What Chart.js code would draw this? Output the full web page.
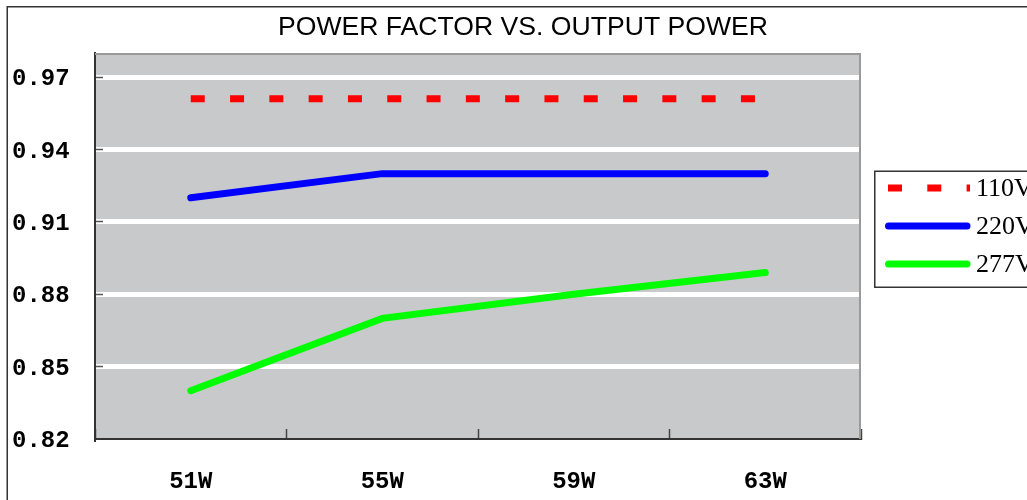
<!DOCTYPE html>
<html>
<head>
<meta charset="utf-8">
<script src="https://cdn.jsdelivr.net/npm/chart.js@4.4.0/dist/chart.umd.min.js"></script>
<style>
  html, body { margin: 0; padding: 0; background: #ffffff; }
  #wrap { width: 1027px; height: 500px; position: relative; }
</style>
</head>
<body>
<div id="wrap"><canvas id="c" width="1027" height="500"></canvas></div>
<script>
const titleText = 'POWER FACTOR VS. OUTPUT POWER';
const categories = ['51W', '55W', '59W', '63W'];
const seriesNames = ['110V', '220V', '277V'];
const values110 = [0.961, 0.961, 0.961, 0.961];
const values220 = [0.92, 0.93, 0.93, 0.93];
const values277 = [0.84, 0.87, 0.88, 0.889];
const yTickValues = [0.82, 0.85, 0.88, 0.91, 0.94, 0.97];
const yMin = 0.82;
const yMax = 0.98;

const chromePlugin = {
  id: 'chrome',
  beforeDraw(chart) {
    const ctx = chart.ctx, a = chart.chartArea;
    ctx.save();
    ctx.fillStyle = '#ffffff';
    ctx.fillRect(0, 0, chart.width, chart.height);
    ctx.fillStyle = '#c8c9cb';
    ctx.fillRect(a.left, a.top, a.right - a.left, a.bottom - a.top);
    // outer frame
    ctx.strokeStyle = '#333333';
    ctx.lineWidth = 1.5;
    ctx.strokeRect(7.25, 6.75, 2000, 2000);
    ctx.restore();
  },
  beforeDatasetsDraw(chart) {
    const ctx = chart.ctx, a = chart.chartArea;
    ctx.save();
    ctx.strokeStyle = '#9a9a9a';
    ctx.lineWidth = 2;
    ctx.beginPath();
    ctx.moveTo(a.left, a.top + 1);
    ctx.lineTo(a.right - 1, a.top + 1);
    ctx.lineTo(a.right - 1, a.bottom);
    ctx.stroke();
    ctx.restore();
  },
  afterDraw(chart) {
    const ctx = chart.ctx;
    ctx.save();
    // title
    ctx.fillStyle = '#000000';
    ctx.font = '26.6px "Liberation Sans", Arial, sans-serif';
    ctx.textAlign = 'center';
    ctx.textBaseline = 'middle';
    ctx.fillText(titleText, 523, 28);
    // legend
    const bx = 874.75, by = 171.25, bh = 116;
    ctx.fillStyle = '#ffffff';
    ctx.fillRect(bx, by, 300, bh);
    ctx.strokeStyle = '#333333';
    ctx.lineWidth = 1.5;
    ctx.strokeRect(bx, by, 300, bh);
    chart.data.datasets.forEach((ds, i) => {
      const y = 188 + i * 38;
      ctx.strokeStyle = ds.borderColor;
      ctx.lineWidth = ds.borderWidth;
      ctx.setLineDash(ds.borderDash || []);
      ctx.lineCap = ds.borderCapStyle || 'butt';
      ctx.beginPath();
      if (ds.borderDash && ds.borderDash.length) {
        ctx.moveTo(888, y); ctx.lineTo(970, y);
      } else {
        ctx.moveTo(888.5, y); ctx.lineTo(967, y);
      }
      ctx.stroke();
      ctx.setLineDash([]);
      ctx.fillStyle = '#000000';
      ctx.font = '26px "Liberation Serif", "Times New Roman", serif';
      ctx.textAlign = 'left';
      ctx.textBaseline = 'middle';
      ctx.fillText(ds.label, 976, y + 1);
    });
    ctx.restore();
  }
};

new Chart(document.getElementById('c'), {
  type: 'line',
  data: {
    labels: categories,
    datasets: [
      { label: seriesNames[0], data: values110, borderColor: '#ff0000', backgroundColor: '#ff0000',
        borderWidth: 7, borderDash: [14, 25.3], borderCapStyle: 'butt', pointRadius: 0, tension: 0, fill: false },
      { label: seriesNames[1], data: values220, borderColor: '#0000ff', backgroundColor: '#0000ff',
        borderWidth: 7, borderCapStyle: 'round', pointRadius: 0, tension: 0, fill: false },
      { label: seriesNames[2], data: values277, borderColor: '#00ff00', backgroundColor: '#00ff00',
        borderWidth: 7, borderCapStyle: 'round', pointRadius: 0, tension: 0, fill: false }
    ]
  },
  options: {
    responsive: false,
    animation: false,
    devicePixelRatio: 1,
    layout: { padding: { left: 12, top: 53, right: 166, bottom: 0 } },
    plugins: { legend: { display: false }, title: { display: false }, tooltip: { enabled: false } },
    scales: {
      x: {
        offset: true,
        grid: { offset: true, drawOnChartArea: false, drawTicks: true, tickLength: -10,
                tickColor: '#444444', tickWidth: 1.5 },
        border: { display: true, color: '#333333', width: 2 },
        ticks: { color: '#000000', padding: 39, font: { family: '"Liberation Mono", monospace', size: 24, weight: 'bold' } },
        afterFit(s) { s.height = 61; }
      },
      y: {
        min: yMin, max: yMax,
        afterBuildTicks(s) { s.ticks = yTickValues.map(v => ({ value: v })); },
        grid: {
          color: c => (c.tick && Math.abs(c.tick.value - yMin) < 1e-9) ? 'rgba(0,0,0,0)' : '#ffffff',
          lineWidth: 5,
          drawTicks: true, tickLength: -8,
          tickColor: c => (c.tick && Math.abs(c.tick.value - yMin) < 1e-9) ? 'rgba(0,0,0,0)' : '#555555',
          tickWidth: 1.5
        },
        border: { display: true, color: '#333333', width: 2 },
        ticks: {
          crossAlign: 'far', color: '#000000', labelOffset: 2,
          font: { family: '"Liberation Mono", monospace', size: 24, weight: 'bold' },
          callback: v => Number(v).toFixed(2)
        },
        afterFit(s) { s.width = 83; }
      }
    }
  },
  plugins: [chromePlugin]
});
</script>
</body>
</html>
